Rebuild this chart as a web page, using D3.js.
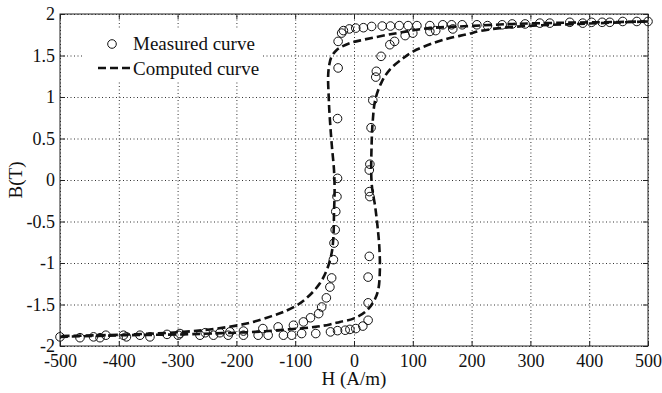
<!DOCTYPE html>
<html>
<head>
<meta charset="utf-8">
<script src="https://cdn.jsdelivr.net/npm/d3@7"></script>
<style>
  html, body { margin: 0; padding: 0; background: #fff; }
  svg text { font-family: "Liberation Serif", "Times New Roman", serif; }
</style>
</head>
<body>
<div id="chart"></div>
<script>
// axis ticks
const xTicks = [-500, -400, -300, -200, -100, 0, 100, 200, 300, 400, 500];
const yTicks = [-2, -1.5, -1, -0.5, 0, 0.5, 1, 1.5, 2];

// measured points, [H (A/m), B (T)] - descending branch (from +H to -H)
const measuredDesc = [
  [500, 1.91], [481, 1.91], [457, 1.91], [435, 1.90], [422, 1.90], [404, 1.90], [389, 1.89],
  [367, 1.90], [333, 1.89], [316, 1.89], [291, 1.88], [269, 1.88], [252, 1.87], [227, 1.86],
  [209, 1.87], [184, 1.87], [166, 1.87], [151, 1.87], [129, 1.86], [107, 1.86], [92, 1.86],
  [77, 1.86], [62, 1.855], [48, 1.855], [30, 1.85], [16, 1.835], [3, 1.83], [-8, 1.82],
  [-18, 1.80], [-21, 1.77], [-27, 1.67], [-27, 1.35], [-28, 0.74], [-28, 0.02], [-29, -0.2],
  [-31, -0.38], [-32, -0.6], [-34, -0.76], [-35, -0.96], [-38, -1.18], [-41, -1.29],
  [-47, -1.42], [-55, -1.53], [-60, -1.61], [-74, -1.66], [-86, -1.71], [-103, -1.75],
  [-129, -1.77], [-155, -1.79], [-188, -1.82], [-211, -1.83], [-228, -1.84], [-253, -1.84],
  [-296, -1.85], [-318, -1.86], [-364, -1.87], [-392, -1.87], [-422, -1.87], [-466, -1.90],
  [-500, -1.89]
];

// measured points - ascending branch (from -H to +H)
const measuredAsc = [
  [-443, -1.89], [-432, -1.90], [-387, -1.89], [-347, -1.89], [-299, -1.87], [-262, -1.87],
  [-239, -1.87], [-214, -1.87], [-188, -1.87], [-163, -1.87], [-146, -1.87], [-120, -1.87],
  [-106, -1.87], [-89, -1.85], [-65, -1.85], [-40, -1.83], [-28, -1.815], [-15, -1.81],
  [-7, -1.80], [3, -1.79], [15, -1.76], [24, -1.69], [24, -1.48], [24, -1.17], [26, -0.92],
  [27, -0.2], [26, -0.14], [26, 0.12], [27, 0.19], [29, 0.63], [32, 0.96], [37, 1.24],
  [38, 1.31], [46, 1.49], [61, 1.63], [69, 1.67], [87, 1.74], [100, 1.77], [129, 1.79],
  [139, 1.80], [168, 1.82]
];

// computed curve - descending branch
const computedDesc = [
  [500, 1.91], [413, 1.90], [356, 1.895], [270, 1.88], [197, 1.855], [129, 1.83], [73, 1.77],
  [16, 1.69], [-7, 1.65], [-20, 1.61], [-29, 1.57], [-38, 1.49], [-42, 1.39], [-44, 1.25],
  [-43, 1.0], [-42, 0.84], [-38, 0.44], [-34, 0.12], [-33, -0.12], [-34, -0.4], [-35, -0.68],
  [-38, -0.88], [-46, -1.08], [-58, -1.245], [-75, -1.385], [-95, -1.50], [-120, -1.59],
  [-140, -1.64], [-177, -1.72], [-233, -1.79], [-290, -1.83], [-375, -1.86], [-500, -1.88]
];

// computed curve - ascending branch
const computedAsc = [
  [-500, -1.89], [-390, -1.87], [-290, -1.86], [-225, -1.845], [-168, -1.83], [-112, -1.80],
  [-66, -1.77], [-41, -1.74], [-24, -1.71], [-1, -1.67], [19, -1.59], [33, -1.47], [41, -1.33],
  [44, -1.08], [43, -0.80], [40, -0.56], [36, -0.32], [30, -0.04], [30, 0.44], [32, 0.72],
  [36, 0.96], [47, 1.18], [61, 1.33], [84, 1.47], [101, 1.55], [135, 1.65], [163, 1.71],
  [192, 1.755], [214, 1.795], [248, 1.83], [304, 1.86], [362, 1.875], [418, 1.89], [500, 1.91]
];

const FONT = '"Liberation Serif", "Times New Roman", serif';
const width = 662, height = 393;
const margin = { top: 14, right: 14, bottom: 47, left: 60 };
const w = width - margin.left - margin.right;
const h = height - margin.top - margin.bottom;

const svg = d3.select("#chart").append("svg")
  .attr("width", width).attr("height", height)
  .attr("font-family", FONT);

svg.append("rect").attr("width", width).attr("height", height).attr("fill", "#fff");

const g = svg.append("g").attr("transform", `translate(${margin.left},${margin.top})`);

const x = d3.scaleLinear().domain([-500, 500]).range([0, w]);
const y = d3.scaleLinear().domain([-2, 2]).range([h, 0]);

// dotted grid
g.append("g").attr("class", "grid")
  .attr("transform", `translate(0,${h})`)
  .call(d3.axisBottom(x).tickValues(xTicks).tickSize(-h).tickFormat(""));
g.append("g").attr("class", "grid")
  .call(d3.axisLeft(y).tickValues(yTicks).tickSize(-w).tickFormat(""));
g.selectAll(".grid .domain").remove();
g.selectAll(".grid line")
  .attr("stroke", "#333")
  .attr("stroke-width", 1)
  .attr("stroke-dasharray", "1,2.5");

// computed curves (dashed)
const line = d3.line()
  .x(d => x(d[0]))
  .y(d => y(d[1]))
  .curve(d3.curveCatmullRom.alpha(0.5));

[computedDesc, computedAsc].forEach(data => {
  g.append("path")
    .datum(data)
    .attr("fill", "none")
    .attr("stroke", "#111")
    .attr("stroke-width", 2.6)
    .attr("stroke-dasharray", "8,4")
    .attr("d", line);
});

// measured markers
g.selectAll(".dot")
  .data(measuredDesc.concat(measuredAsc)).enter().append("circle")
  .attr("class", "dot")
  .attr("cx", d => x(d[0]))
  .attr("cy", d => y(d[1]))
  .attr("r", 4.3)
  .attr("fill", "none")
  .attr("stroke", "#111")
  .attr("stroke-width", 1);

// axes, ticks inside like matlab, plain hyphen minus in labels
const fmt = d => String(d);
const xAxis = g.append("g").attr("transform", `translate(0,${h})`)
  .call(d3.axisBottom(x).tickValues(xTicks).tickSizeInner(-5).tickSizeOuter(0).tickPadding(8).tickFormat(fmt));
const yAxis = g.append("g")
  .call(d3.axisLeft(y).tickValues(yTicks).tickSizeInner(-5).tickSizeOuter(0).tickPadding(5).tickFormat(fmt));
g.append("g")
  .call(d3.axisTop(x).tickValues(xTicks).tickSizeInner(-5).tickSizeOuter(0).tickFormat(""));
g.append("g").attr("transform", `translate(${w},0)`)
  .call(d3.axisRight(y).tickValues(yTicks).tickSizeInner(-5).tickSizeOuter(0).tickFormat(""));

g.selectAll(".domain").remove();
g.selectAll("g").attr("font-family", FONT);
g.selectAll(".tick line").filter(function () { return !this.closest(".grid"); })
  .attr("stroke", "#222");
[xAxis, yAxis].forEach(a => a.selectAll("text")
  .attr("font-family", FONT)
  .attr("font-size", 18)
  .attr("fill", "#111"));

g.append("rect")
  .attr("width", w).attr("height", h)
  .attr("fill", "none").attr("stroke", "#222").attr("stroke-width", 1);

// legend
const legend = svg.append("g");
legend.append("rect")
  .attr("x", 84).attr("y", 28).attr("width", 178).attr("height", 54)
  .attr("fill", "#fff");
legend.append("circle")
  .attr("cx", 112).attr("cy", 44).attr("r", 4.3)
  .attr("fill", "none").attr("stroke", "#111");
legend.append("line")
  .attr("x1", 98).attr("x2", 130).attr("y1", 68).attr("y2", 68)
  .attr("stroke", "#111").attr("stroke-width", 2.6).attr("stroke-dasharray", "8,4");
legend.append("text").attr("x", 133).attr("y", 50)
  .attr("font-family", FONT).attr("font-size", 19).attr("fill", "#111").text("Measured curve");
legend.append("text").attr("x", 133).attr("y", 75)
  .attr("font-family", FONT).attr("font-size", 19).attr("fill", "#111").text("Computed curve");

// axis titles
svg.append("text")
  .attr("x", margin.left + x(0)).attr("y", 385)
  .attr("text-anchor", "middle")
  .attr("font-family", FONT).attr("font-size", 19).attr("fill", "#111")
  .text("H (A/m)");
svg.append("text")
  .attr("transform", `translate(22,${margin.top + y(0)}) rotate(-90)`)
  .attr("text-anchor", "middle")
  .attr("font-family", FONT).attr("font-size", 19).attr("fill", "#111")
  .text("B(T)");
</script>
</body>
</html>
